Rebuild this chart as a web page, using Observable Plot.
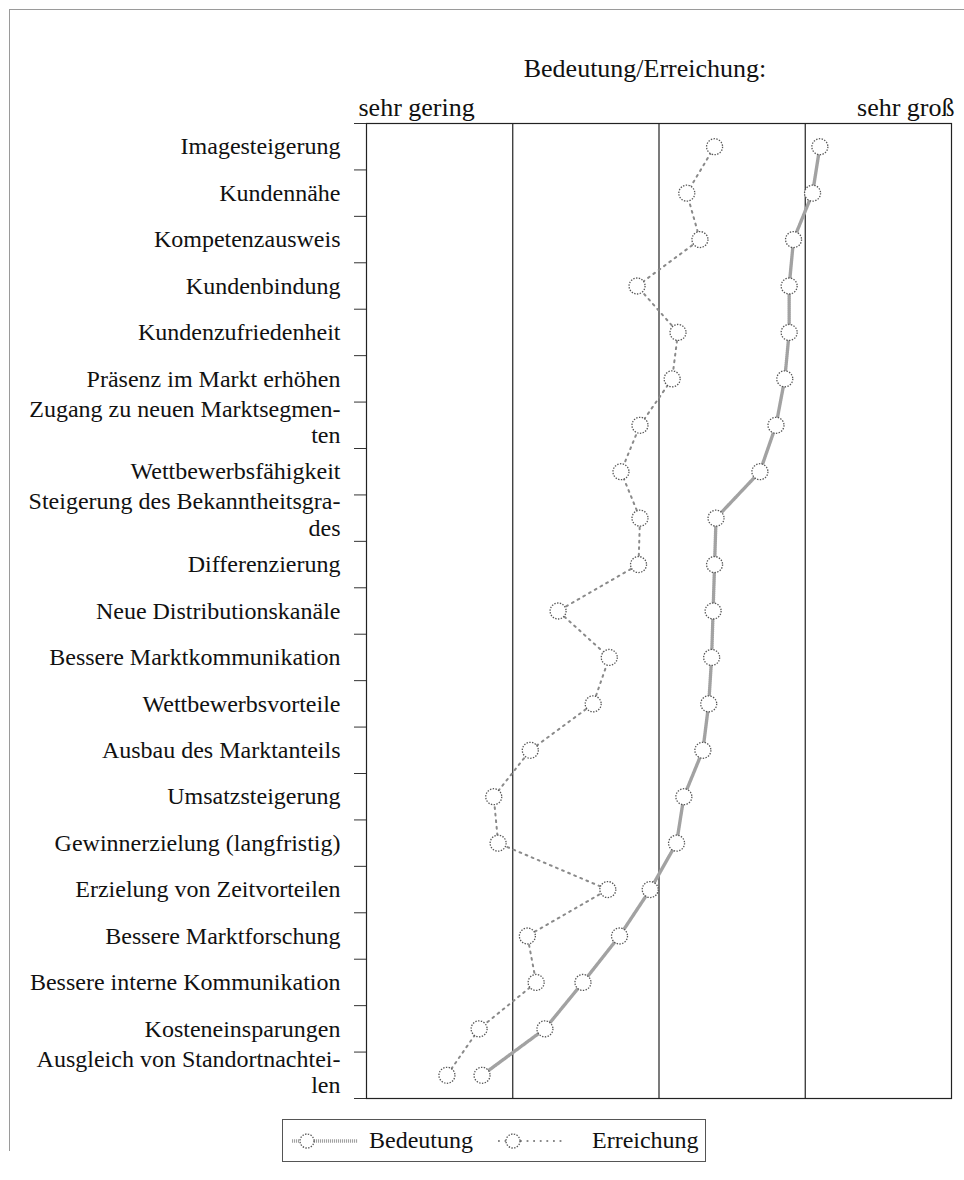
<!DOCTYPE html>
<html>
<head>
<meta charset="utf-8">
<script src="https://cdn.jsdelivr.net/npm/d3@7"></script>
<script src="https://cdn.jsdelivr.net/npm/@observablehq/plot@0.6"></script>
<style>
  html, body { margin: 0; padding: 0; background: #fff; }
  #wrap { position: relative; width: 964px; height: 1180px; overflow: hidden; font-family: "Liberation Serif", "Times New Roman", serif; }
  #border { position: absolute; left: 9px; top: 9px; width: 960px; height: 1141px; border-top: 1px solid #9a9a9a; border-left: 1px solid #9a9a9a; pointer-events: none; z-index: 5; }
  #legend { position: absolute; left: 282px; top: 1119px; }
</style>
</head>
<body>
<div id="wrap">
  <div id="chart"></div>
  <div id="legend"></div>
  <div id="border"></div>
</div>
<script>
// ---- data ----
const categories = [
  "Imagesteigerung",
  "Kundennähe",
  "Kompetenzausweis",
  "Kundenbindung",
  "Kundenzufriedenheit",
  "Präsenz im Markt erhöhen",
  "Zugang zu neuen Marktsegmen-\nten",
  "Wettbewerbsfähigkeit",
  "Steigerung des Bekanntheitsgra-\ndes",
  "Differenzierung",
  "Neue Distributionskanäle",
  "Bessere Marktkommunikation",
  "Wettbewerbsvorteile",
  "Ausbau des Marktanteils",
  "Umsatzsteigerung",
  "Gewinnerzielung (langfristig)",
  "Erzielung von Zeitvorteilen",
  "Bessere Marktforschung",
  "Bessere interne Kommunikation",
  "Kosteneinsparungen",
  "Ausgleich von Standortnachtei-\nlen"
];
const bedeutung  = [4.10, 4.05, 3.92, 3.89, 3.89, 3.86, 3.80, 3.69, 3.39, 3.38, 3.37, 3.36, 3.34, 3.30, 3.17, 3.12, 2.94, 2.73, 2.48, 2.22, 1.79];
const erreichung = [3.38, 3.19, 3.28, 2.85, 3.13, 3.09, 2.87, 2.74, 2.87, 2.86, 2.31, 2.66, 2.55, 2.12, 1.87, 1.90, 2.65, 2.10, 2.16, 1.77, 1.55];
const scaleDomain = [1, 5];
const gridValues = [2, 3, 4];
const seriesNames = ["Bedeutung", "Erreichung"];
const titleText = "Bedeutung/Erreichung:";
const lowLabel = "sehr gering";
const highLabel = "sehr groß";

// ---- derived tables ----
const idx = categories.map((_, i) => i);
const rowsB = idx.map(i => ({i, v: bedeutung[i]}));
const rowsE = idx.map(i => ({i, v: erreichung[i]}));
const boundaries = d3.range(-0.5, categories.length, 1);
const single = idx.filter(i => !categories[i].includes("\n"));
const multi = idx.filter(i => categories[i].includes("\n"));

const FONT = "Liberation Serif";
const bStyle = {stroke: "#a2a2a2", strokeWidth: 3.4, strokeDasharray: "1.1,0.9"};
const eStyle = {stroke: "#8a8a8a", strokeWidth: 2, strokeDasharray: "1.8,4.8"};
const dotStyle = {r: 8, fill: "white", stroke: "#555", strokeWidth: 1.3, strokeDasharray: "1.4,1.4"};

const plot = Plot.plot({
  width: 964,
  height: 1108,
  marginTop: 123,
  marginBottom: 10,
  marginLeft: 366,
  marginRight: 13,
  style: {fontFamily: FONT, fontSize: "24px", color: "#111", background: "transparent"},
  x: {domain: scaleDomain, axis: null},
  y: {domain: [-0.5, categories.length - 0.5], reverse: true, axis: null},
  marks: [
    Plot.ruleX(gridValues, {stroke: "#222", strokeWidth: 1.2}),
    Plot.frame({stroke: "#222", strokeWidth: 1.2}),
    Plot.axisY(boundaries, {tickSize: 12, tickFormat: () => "", stroke: "#333", label: null}),
    Plot.text(single, {y: d => d, text: d => categories[d], frameAnchor: "left", textAnchor: "end", dx: -26, fontSize: 24, fill: "#111"}),
    Plot.text(multi, {y: d => d, text: d => categories[d], frameAnchor: "left", textAnchor: "end", dx: -26, dy: -4, fontSize: 24, lineHeight: 1.1, fill: "#111"}),
    Plot.text([titleText], {frameAnchor: "top", dx: -14, dy: -65, fontSize: 26, fill: "#111"}),
    Plot.text([lowLabel], {frameAnchor: "top-left", textAnchor: "start", dx: -8, dy: -26, fontSize: 26, fill: "#111"}),
    Plot.text([highLabel], {frameAnchor: "top-right", textAnchor: "end", dx: 3, dy: -26, fontSize: 26, fill: "#111"}),
    Plot.line(rowsE, {x: "v", y: "i", ...eStyle}),
    Plot.line(rowsB, {x: "v", y: "i", ...bStyle}),
    Plot.dot(rowsE, {x: "v", y: "i", ...dotStyle}),
    Plot.dot(rowsB, {x: "v", y: "i", ...dotStyle})
  ]
});
document.getElementById("chart").appendChild(plot);

// ---- legend (HTML box with inline swatches) ----
function swatch(style) {
  const dash = style.strokeDasharray;
  return `<svg width="66" height="20" style="display:block">
    <line x1="0" y1="10" x2="8" y2="10" stroke="${style.stroke}" stroke-width="${style.strokeWidth}" stroke-dasharray="${dash}"/>
    <line x1="22" y1="10" x2="66" y2="10" stroke="${style.stroke}" stroke-width="${style.strokeWidth}" stroke-dasharray="${dash}"/>
    <circle cx="15" cy="10" r="7" fill="white" stroke="#555" stroke-width="1.3" stroke-dasharray="1.4,1.4"/>
  </svg>`;
}
const styles = [bStyle, eStyle];
const legend = document.getElementById("legend");
legend.innerHTML = `<div style="position:relative;width:424px;height:43px;box-sizing:border-box;border:1px solid #555;font-family:'${FONT}';font-size:24px;color:#111;">
  <div style="position:absolute;left:9px;top:11px">${swatch(styles[0])}</div>
  <div style="position:absolute;left:86px;top:6px;line-height:28px">${seriesNames[0]}</div>
  <div style="position:absolute;left:215px;top:11px">${swatch(styles[1])}</div>
  <div style="position:absolute;left:309px;top:6px;line-height:28px">${seriesNames[1]}</div>
</div>`;
</script>
</body>
</html>
